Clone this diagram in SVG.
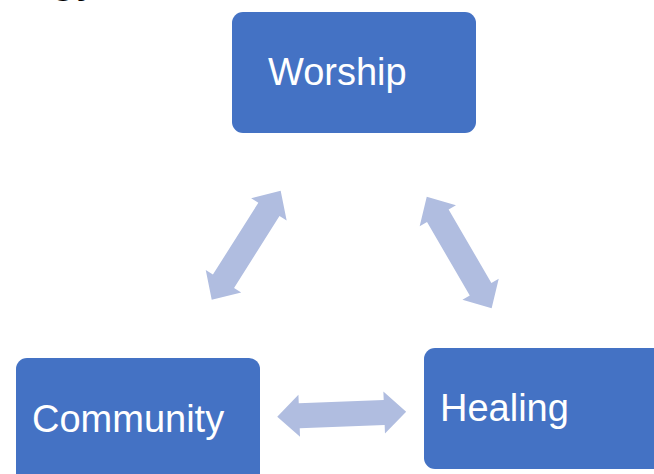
<svg xmlns="http://www.w3.org/2000/svg" width="654" height="474" viewBox="0 0 654 474">
  <style>
    .box { fill: #4472C4; }
    .lbl { fill: #FFFFFF; font-family: "Liberation Sans", Arial, sans-serif; font-size: 38px; }
    .arr { fill: #B0BDE0; }
    .title { fill: #000000; font-family: "Liberation Sans", Arial, sans-serif; font-size: 48px; }
  </style>
  <defs>
    <path id="dblArrow" d="M -64.5,0 L -42.5,-21 L -42.5,-12.5 L 42.5,-12.5 L 42.5,-21 L 64.5,0 L 42.5,21 L 42.5,12.5 L -42.5,12.5 L -42.5,21 Z"/>
  </defs>
  <rect width="654" height="474" fill="#FFFFFF"/>
  <text class="title" x="50" y="-9">gy</text>
  <g id="connectors">
    <use href="#dblArrow" class="arr" transform="translate(246.2,245.3) rotate(-57.7)"/>
    <use href="#dblArrow" class="arr" transform="translate(459.2,252.5) rotate(59.8)"/>
    <use href="#dblArrow" class="arr" transform="translate(341.7,414.2) rotate(-2.2)"/>
  </g>
  <g id="worship">
    <rect class="box" x="232" y="12" width="244" height="121" rx="11"/>
    <text class="lbl" x="268" y="85">Worship</text>
  </g>
  <g id="community">
    <rect class="box" x="16" y="358" width="244" height="130" rx="11"/>
    <text class="lbl" x="32" y="432">Community</text>
  </g>
  <g id="healing">
    <rect class="box" x="424" y="348" width="250" height="121" rx="11"/>
    <text class="lbl" x="440" y="421">Healing</text>
  </g>
</svg>
